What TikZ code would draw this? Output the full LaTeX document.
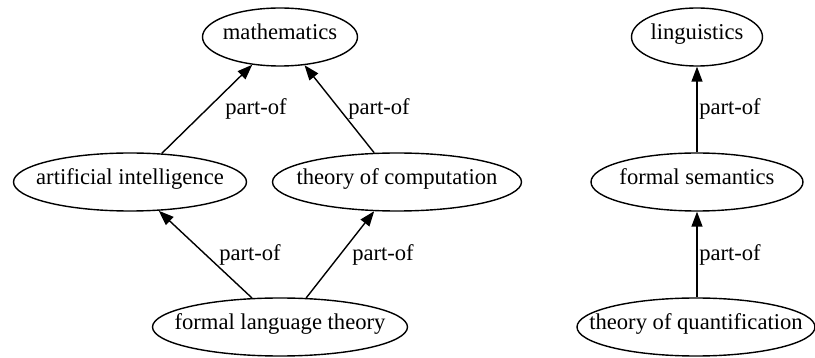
\documentclass[tikz,border=0pt]{standalone}
\usepackage{fontspec}
\setmainfont{Liberation Serif}
\usetikzlibrary{shapes.geometric,arrows.meta}

\begin{document}
\begin{tikzpicture}[
    x=1pt, y=-1pt,
    every node/.style={font=\fontsize{22.6}{27}\selectfont},
    concept/.style={ellipse, draw, line width=1.4pt, minimum height=58pt, inner sep=0pt, minimum width=#1},
    txt/.style={inner sep=0pt, text height=0.68em, text depth=0.22em},
    arrow/.style={-{Triangle[length=15pt, width=11pt]}, line width=1.4pt}
]
\useasboundingbox (0,0) rectangle (815,358);

% Mathematics tree
\node[concept=155, label={[txt]center:mathematics}] (math) at (280,37) {};
\node[concept=233, label={[txt]center:artificial intelligence}] (ai) at (130,182) {};
\node[concept=249, label={[txt]center:theory of computation}] (toc) at (397,182) {};
\node[concept=255, label={[txt]center:formal language theory}] (flt) at (280,327) {};

\draw[arrow] (ai.42) -- (math.225);
\draw[arrow] (toc.128) -- (math.311);
\draw[arrow] (flt.134) -- (ai.315);
\draw[arrow] (flt.48) -- (toc.232);

\node[txt] (po1) at (256,112) {part-of};
\node[txt] (po2) at (379,112) {part-of};
\node[txt] (po3) at (250,258) {part-of};
\node[txt] (po4) at (383,258) {part-of};

% Linguistics tree
\node[concept=131, label={[txt]center:linguistics}] (ling) at (697,37) {};
\node[concept=212, label={[txt]center:formal semantics}] (fs) at (697,182) {};
\node[concept=238, label={[txt]center:theory of quantification}] (toq) at (696,327) {};

\draw[arrow] (fs.north) -- (ling.south);
\draw[arrow] (toq.north -| fs.south) -- (fs.south);

\node[txt] (po5) at (730,112) {part-of};
\node[txt] (po6) at (730,258) {part-of};

\end{tikzpicture}
\end{document}
